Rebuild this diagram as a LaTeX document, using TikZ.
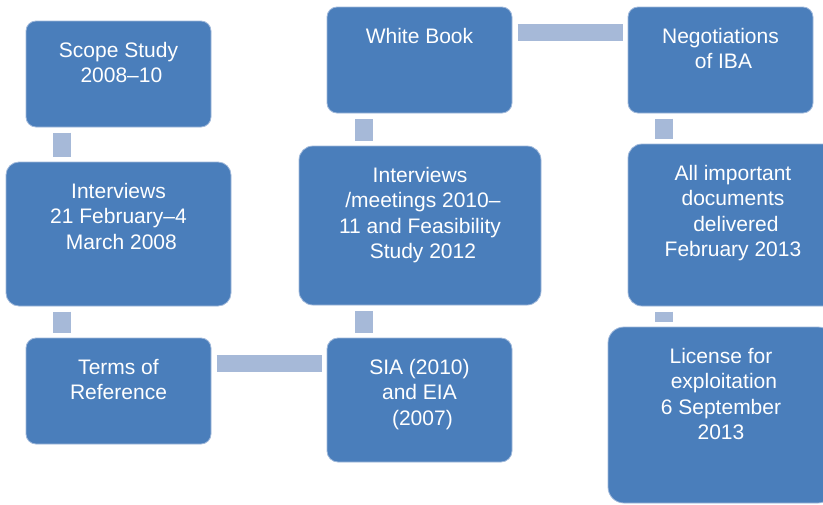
\documentclass[tikz,border=0pt]{standalone}
\usepackage{fontspec}
\setmainfont{Liberation Sans}
\definecolor{boxblue}{HTML}{4A7EBB}
\definecolor{boxedge}{HTML}{9FB8DA}
\definecolor{connblue}{HTML}{A6B9D8}
\newcommand\leadsp{\hspace*{0.278em}}
\begin{document}
\begin{tikzpicture}[x=1pt,y=-1pt,
  box/.style={draw=boxedge,line width=0.8pt,fill=boxblue,inner sep=0pt,outer sep=0pt},
  txt/.style={anchor=north,inner sep=0pt,align=center,text=white,font=\fontsize{21}{25.5}\selectfont},
  vconn/.style={draw=connblue,line width=18pt,line cap=butt,shorten <=5.5pt,shorten >=5.5pt},
  hconn/.style={draw=connblue,line width=17pt,line cap=butt,shorten <=5.5pt,shorten >=5.5pt}]
\useasboundingbox (0,0) rectangle (823,504);
\clip (0,0) rectangle (823,504);
% boxes
\node[box,rounded corners=10pt,minimum width=185pt,minimum height=106pt] (b1) at (118.5,74) {};
\node[box,rounded corners=13pt,minimum width=225pt,minimum height=144pt] (b2) at (118.5,234) {};
\node[box,rounded corners=10pt,minimum width=185pt,minimum height=106pt] (b3) at (118.5,391) {};
\node[box,rounded corners=11pt,minimum width=185pt,minimum height=124pt] (b4) at (419.5,400) {};
\node[box,rounded corners=14pt,minimum width=242pt,minimum height=159pt] (b5) at (420,225.5) {};
\node[box,rounded corners=10pt,minimum width=185pt,minimum height=106pt] (b6) at (419.5,60) {};
\node[box,rounded corners=10pt,minimum width=185pt,minimum height=106pt] (b7) at (720.5,60) {};
\node[box,rounded corners=14pt,minimum width=210pt,minimum height=162pt] (b8) at (733,225) {};
\node[box,rounded corners=16pt,minimum width=226pt,minimum height=176pt] (b9) at (721,415) {};
% texts
\node[txt] (t1) at ([yshift=-21pt]b1.north) {Scope Study\\\leadsp 2008--10};
\node[txt] (t2) at ([yshift=-21pt]b2.north) {Interviews\\21 February--4\\\leadsp March 2008};
\node[txt] (t3) at ([yshift=-21pt]b3.north) {Terms of\\Reference};
\node[txt] (t4) at ([yshift=-21pt]b4.north) {SIA (2010)\\and EIA\\\leadsp (2007)};
\node[txt] (t5) at ([yshift=-21pt]b5.north) {Interviews\\\leadsp /meetings 2010--\\11 and Feasibility\\\leadsp Study 2012};
\node[txt] (t6) at ([yshift=-21pt]b6.north) {White Book};
\node[txt] (t7) at ([yshift=-21pt]b7.north) {Negotiations\\\leadsp of IBA};
\node[txt] (t8) at ([yshift=-21pt]b8.north) {All important\\documents\\\leadsp delivered\\February 2013};
\node[txt] (t9) at ([yshift=-21pt]b9.north) {License for\\\leadsp exploitation\\6 September\\2013};
% connectors
\path ([xshift=36pt]b1.south west) coordinate (c12);
\draw[vconn] (c12) -- (c12 |- b2.north);
\path ([xshift=36pt]b3.north west) coordinate (c23);
\draw[vconn] (c23 |- b2.south) -- (c23);
\path ([yshift=-25pt]b3.north east) coordinate (c34);
\draw[hconn] (c34) -- (c34 -| b4.west);
\path ([xshift=37pt]b4.north west) coordinate (c45);
\draw[vconn] (c45) -- (c45 |- b5.south);
\path ([xshift=37pt]b6.south west) coordinate (c56);
\draw[vconn] (c56 |- b5.north) -- (c56);
\path ([yshift=-25.5pt]b6.north east) coordinate (c67);
\draw[hconn] (c67) -- (c67 -| b7.west);
\path ([xshift=36pt]b7.south west) coordinate (c78);
\draw[vconn] (c78) -- (c78 |- b8.north);
\path ([xshift=35.5pt]b8.south west) coordinate (c89);
\draw[vconn] (c89) -- (c89 |- b9.north);
\end{tikzpicture}
\end{document}
